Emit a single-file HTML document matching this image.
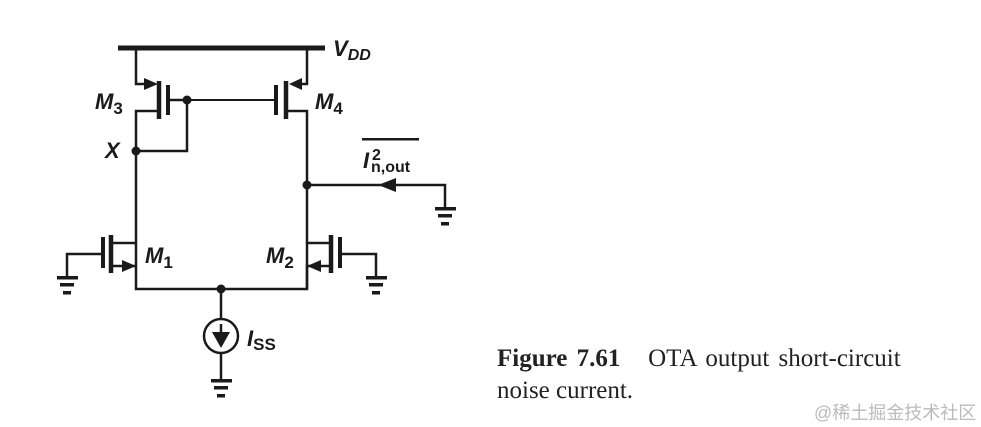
<!DOCTYPE html>
<html><head><meta charset="utf-8"><style>
body{margin:0;background:#fff;width:981px;height:427px;overflow:hidden;position:relative}
svg{position:absolute;left:0;top:0}
.cap{position:absolute;font-family:"Liberation Serif",serif;font-size:25px;color:#222;white-space:nowrap}
</style></head><body>
<svg width="981" height="427" viewBox="0 0 981 427">
<g stroke="#1a1a1a" fill="none" stroke-width="2.5">
<line x1="118" y1="48" x2="325" y2="48" stroke-width="5"/>
<polyline points="136,48 136,84 152,84"/>
<line x1="159" y1="81" x2="159" y2="119" stroke-width="4.5"/>
<line x1="168" y1="85" x2="168" y2="115" stroke-width="4"/>
<line x1="169" y1="100" x2="187" y2="100"/>
<polyline points="159,111 136,111 136,289 307,289 307,243 329,243"/>
<polyline points="136,151 187,151 187,100"/>
<line x1="187" y1="100" x2="276" y2="100" stroke-width="2"/>
<line x1="276" y1="85" x2="276" y2="115" stroke-width="4"/>
<line x1="286" y1="81" x2="286" y2="119" stroke-width="4.5"/>
<polyline points="307,48 307,84 294,84"/>
<polyline points="286,111 307,111 307,243"/>
<polyline points="307,185 445,185 445,208"/>
<polyline points="136,243 111,243"/>
<line x1="111" y1="235" x2="111" y2="273" stroke-width="4.5"/>
<line x1="103" y1="237" x2="103" y2="268" stroke-width="4"/>
<polyline points="103,254 67,254 67,277"/>
<polyline points="111,266 128,266 136,266"/>
<line x1="331" y1="235" x2="331" y2="273" stroke-width="4.5"/>
<line x1="340" y1="237" x2="340" y2="268" stroke-width="4"/>
<polyline points="340,254 376,254 376,277"/>
<polyline points="331,266 307,266 307,289"/>
<line x1="221" y1="289" x2="221" y2="319"/>
<circle cx="221" cy="336" r="17" stroke-width="2.5"/>
<line x1="221" y1="324" x2="221" y2="336"/>
<line x1="221" y1="353" x2="221" y2="380"/>
</g>
<g fill="#1a1a1a">
<circle cx="187" cy="100" r="4.5"/>
<circle cx="136" cy="151" r="4.5"/>
<circle cx="307" cy="185" r="4.5"/>
<circle cx="221" cy="289" r="4.5"/>
<polygon points="158,84 144,78 144,90"/>
<polygon points="289,84 302,78 302,90"/>
<polygon points="136,266 122,260 122,272"/>
<polygon points="307,266 321,260 321,272"/>
<polygon points="378,185 396,178 396,192"/>
<polygon points="221,348 212,332 230,332"/>
<rect x="57" y="276" width="21" height="3.5"/><rect x="60" y="283" width="14" height="3.5"/><rect x="63" y="291" width="8" height="3.5"/>
<rect x="366" y="276" width="21" height="3.5"/><rect x="369" y="283" width="14" height="3.5"/><rect x="372" y="291" width="8" height="3.5"/>
<rect x="435" y="207" width="21" height="3.5"/><rect x="438" y="214" width="14" height="3.5"/><rect x="441" y="222" width="8" height="3.5"/>
<rect x="211" y="379" width="21" height="3.5"/><rect x="214" y="386" width="14" height="3.5"/><rect x="217" y="394" width="8" height="3.5"/>
<rect x="362" y="138" width="57" height="2.5"/>
</g>
<g font-family="Liberation Sans,sans-serif" font-weight="bold" font-style="italic" fill="#1a1a1a" font-size="22">
<text x="333" y="56">V<tspan font-size="16" dy="4">DD</tspan></text>
<text x="95" y="109">M<tspan font-size="17" dy="5" font-style="normal">3</tspan></text>
<text x="315" y="109">M<tspan font-size="17" dy="5" font-style="normal">4</tspan></text>
<text x="105" y="158">X</text>
<text x="145" y="263">M<tspan font-size="17" dy="5" font-style="normal">1</tspan></text>
<text x="266" y="263">M<tspan font-size="17" dy="5" font-style="normal">2</tspan></text>
<text x="247" y="346">I<tspan font-size="17" dy="4" font-style="normal">SS</tspan></text>
<text x="363" y="168">I</text>
<text x="372" y="160" font-size="16" font-style="normal">2</text>
<text x="371" y="172" font-size="16" font-style="normal">n,out</text>
</g>
</svg>
<div class="cap" style="left:497px;top:345px;word-spacing:3px"><b>Figure 7.61</b>&nbsp;&nbsp; OTA output short-circuit</div>
<div class="cap" style="left:497px;top:377px">noise current.</div>
<div style="position:absolute;left:814px;top:399px;font-family:'Liberation Sans','Noto Sans CJK SC',sans-serif;font-size:18px;color:#bbb">@稀土掘金技术社区</div>
</body></html>
